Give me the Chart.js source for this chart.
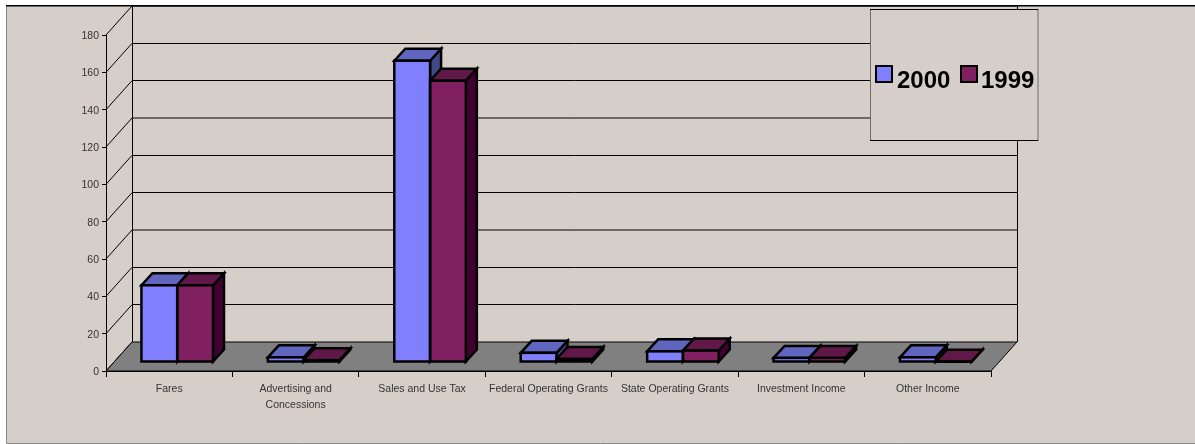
<!DOCTYPE html>
<html>
<head>
<meta charset="utf-8">
<title>Income by source</title>
<script src="https://cdn.jsdelivr.net/npm/chart.js@4"></script>
<style>
    html, body { margin: 0; padding: 0; background: #ffffff; }
    canvas { display: block; }
</style>
</head>
<body>
<canvas id="chart" width="1195" height="444"></canvas>
<script>
const categories = [
    "Fares",
    ["Advertising and", "Concessions"],
    "Sales and Use Tax",
    "Federal Operating Grants",
    "State Operating Grants",
    "Investment Income",
    "Other Income"
];
const seriesNames = ["2000", "1999"];
const values2000 = [41.1, 2.5, 161.4, 4.9, 5.7, 2.2, 2.5];
const values1999 = [41.1, 1, 150.7, 1.6, 6.1, 2.2, 0.2];
const yTickMax = 180;
const yTickStep = 20;

const BACKGROUND = "#d6cfc9";
const FLOOR = "#808080";
const FRONT_COLORS = ["#8080ff", "#802060"];
const TOP_COLORS = ["#6066c0", "#601848"];
const SIDE_COLORS = ["#404a88", "#400030"];
const BAR_LINE = 2.5;

// depth of the whole box, and of a bar standing in the middle of it
const WALL_DX = 26, WALL_DY = -29;
const BAR_SHIFT_X = 8, BAR_SHIFT_Y = -9;
const BAR_DX = 11, BAR_DY = -12;

function snap(v) {
    const r = Math.round(v * 1000) / 1000;
    return Number.isInteger(r) ? r : Math.floor(r) + 0.5;
}

function poly(ctx, points, fill) {
    ctx.beginPath();
    ctx.moveTo(points[0][0], points[0][1]);
    for (let i = 1; i < points.length; i++) {
        ctx.lineTo(points[i][0], points[i][1]);
    }
    ctx.closePath();
    if (fill) {
        ctx.fillStyle = fill;
        ctx.fill();
    }
    ctx.stroke();
}

const box3d = {
    id: "box3d",
    afterLayout(chart) {
        // y labels sit one pixel lower than the library's middle baseline
        chart.scales.y.getLabelItems().forEach(item => {
            item.options.translation[1] += 1;
        });
    },
    beforeDraw(chart) {
        const ctx = chart.ctx;
        const a = chart.chartArea;
        const yScale = chart.scales.y;
        ctx.save();
        // page panel with its thin frame
        ctx.fillStyle = BACKGROUND;
        ctx.fillRect(6, 5, chart.width - 6, chart.height - 5);
        ctx.lineWidth = 1;
        ctx.strokeStyle = "#8a8a8a";
        ctx.beginPath();
        ctx.moveTo(6.5, 5);
        ctx.lineTo(6.5, 443.5);
        ctx.lineTo(chart.width, 443.5);
        ctx.stroke();
        ctx.strokeStyle = "#000000";
        ctx.lineWidth = 1.5;
        ctx.beginPath();
        ctx.moveTo(6, 5.75);
        ctx.lineTo(chart.width, 5.75);
        ctx.stroke();

        ctx.lineWidth = 1;
        ctx.strokeStyle = "#000000";
        const backLeft = a.left + WALL_DX;
        const backRight = a.right + WALL_DX;
        // walls and grid
        yScale.ticks.forEach(tick => {
            const y = yScale.getPixelForValue(tick.value);
            ctx.beginPath();
            ctx.moveTo(a.left, y);
            ctx.lineTo(backLeft, y + WALL_DY);
            if (tick.value != 0) {
                ctx.moveTo(backLeft, snap(y + WALL_DY));
                ctx.lineTo(backRight, snap(y + WALL_DY));
            }
            ctx.stroke();
        });
        ctx.beginPath();
        ctx.moveTo(backLeft + 0.5, a.top + WALL_DY);
        ctx.lineTo(backLeft + 0.5, a.bottom + WALL_DY);
        ctx.moveTo(backRight + 0.5, a.top + WALL_DY);
        ctx.lineTo(backRight + 0.5, a.bottom + WALL_DY);
        ctx.stroke();
        // floor
        poly(ctx, [
            [a.left, a.bottom],
            [backLeft, a.bottom + WALL_DY],
            [backRight, a.bottom + WALL_DY],
            [a.right, a.bottom]
        ], FLOOR);
        ctx.restore();
    },
    beforeDatasetsDraw(chart) {
        const ctx = chart.ctx;
        ctx.save();
        ctx.translate(BAR_SHIFT_X, BAR_SHIFT_Y);
        ctx.save();
        ctx.lineWidth = BAR_LINE;
        ctx.strokeStyle = "#000000";
        chart.data.labels.forEach((_, i) => {
            chart.data.datasets.forEach((ds, d) => {
                const bar = chart.getDatasetMeta(d).data[i];
                const left = bar.x - bar.width / 2;
                const right = bar.x + bar.width / 2;
                poly(ctx, [
                    [right, bar.y],
                    [right + BAR_DX, bar.y + BAR_DY],
                    [right + BAR_DX, bar.base + BAR_DY],
                    [right, bar.base]
                ], SIDE_COLORS[d]);
                poly(ctx, [
                    [left, bar.y],
                    [left + BAR_DX, bar.y + BAR_DY],
                    [right + BAR_DX, bar.y + BAR_DY],
                    [right, bar.y]
                ], TOP_COLORS[d]);
            });
        });
        ctx.restore();
    },
    afterDatasetsDraw(chart) {
        // front outlines go here: the library clamps the border on very short bars
        const ctx = chart.ctx;
        ctx.lineWidth = BAR_LINE;
        ctx.strokeStyle = "#000000";
        chart.data.datasets.forEach((ds, d) => {
            chart.getDatasetMeta(d).data.forEach(bar => {
                ctx.strokeRect(bar.x - bar.width / 2, bar.y, bar.width, bar.base - bar.y);
            });
        });
        ctx.restore();
    },
    afterDraw(chart) {
        // legend panel sits on top of the grid
        const ctx = chart.ctx;
        ctx.save();
        ctx.fillStyle = BACKGROUND;
        ctx.fillRect(870, 9, 168, 131);
        ctx.lineWidth = 1;
        ctx.strokeStyle = "#6e6a66";
        ctx.strokeRect(870.5, 9.5, 167.5, 131);
        ctx.strokeStyle = "#000000";
        ctx.beginPath();
        ctx.moveTo(870, 9.5);
        ctx.lineTo(1038, 9.5);
        ctx.moveTo(870, 140.5);
        ctx.lineTo(1038, 140.5);
        ctx.stroke();

        const boxX = [876, 961];
        const textX = [897, 981];
        ctx.font = "bold 24px 'Liberation Sans'";
        ctx.textAlign = "left";
        ctx.textBaseline = "alphabetic";
        chart.data.datasets.forEach((ds, d) => {
            ctx.lineWidth = 2;
            ctx.strokeStyle = "#000000";
            ctx.fillStyle = FRONT_COLORS[d];
            ctx.fillRect(boxX[d], 66, 16, 16);
            ctx.strokeRect(boxX[d], 66, 16, 16);
            ctx.fillStyle = "#000000";
            ctx.fillText(ds.label, textX[d], 88);
        });
        ctx.restore();
    }
};

new Chart(document.getElementById("chart"), {
    type: "bar",
    plugins: [box3d],
    data: {
        labels: categories,
        datasets: [
            { label: seriesNames[0], data: values2000, backgroundColor: FRONT_COLORS[0] },
            { label: seriesNames[1], data: values1999, backgroundColor: FRONT_COLORS[1] }
        ]
    },
    options: {
        responsive: false,
        animation: false,
        layout: { padding: { left: 0, top: 35, right: 204, bottom: 0 } },
        datasets: {
            bar: {
                categoryPercentage: 0.566,
                barPercentage: 1,
                borderWidth: 0
            }
        },
        plugins: {
            legend: { display: false },
            title: { display: false },
            tooltip: { enabled: false }
        },
        scales: {
            x: {
                afterFit: scale => { scale.height = 73; },
                border: { color: "#000000", width: 1 },
                grid: { drawOnChartArea: false, tickLength: 6, tickColor: "#000000" },
                ticks: {
                    autoSkip: false,
                    maxRotation: 0,
                    padding: 4,
                    color: "#333333",
                    font: { family: "'Liberation Sans'", size: 10.5, lineHeight: 1.55 }
                }
            },
            y: {
                min: 0,
                max: yTickMax,
                afterFit: scale => { scale.width = 106; },
                border: { color: "#000000", width: 1 },
                grid: { drawOnChartArea: false, tickLength: 4, tickColor: "#000000" },
                ticks: {
                    stepSize: yTickStep,
                    padding: 3,
                    color: "#333333",
                    font: { family: "'Liberation Sans'", size: 10.5 }
                }
            }
        }
    }
});
</script>
</body>
</html>
